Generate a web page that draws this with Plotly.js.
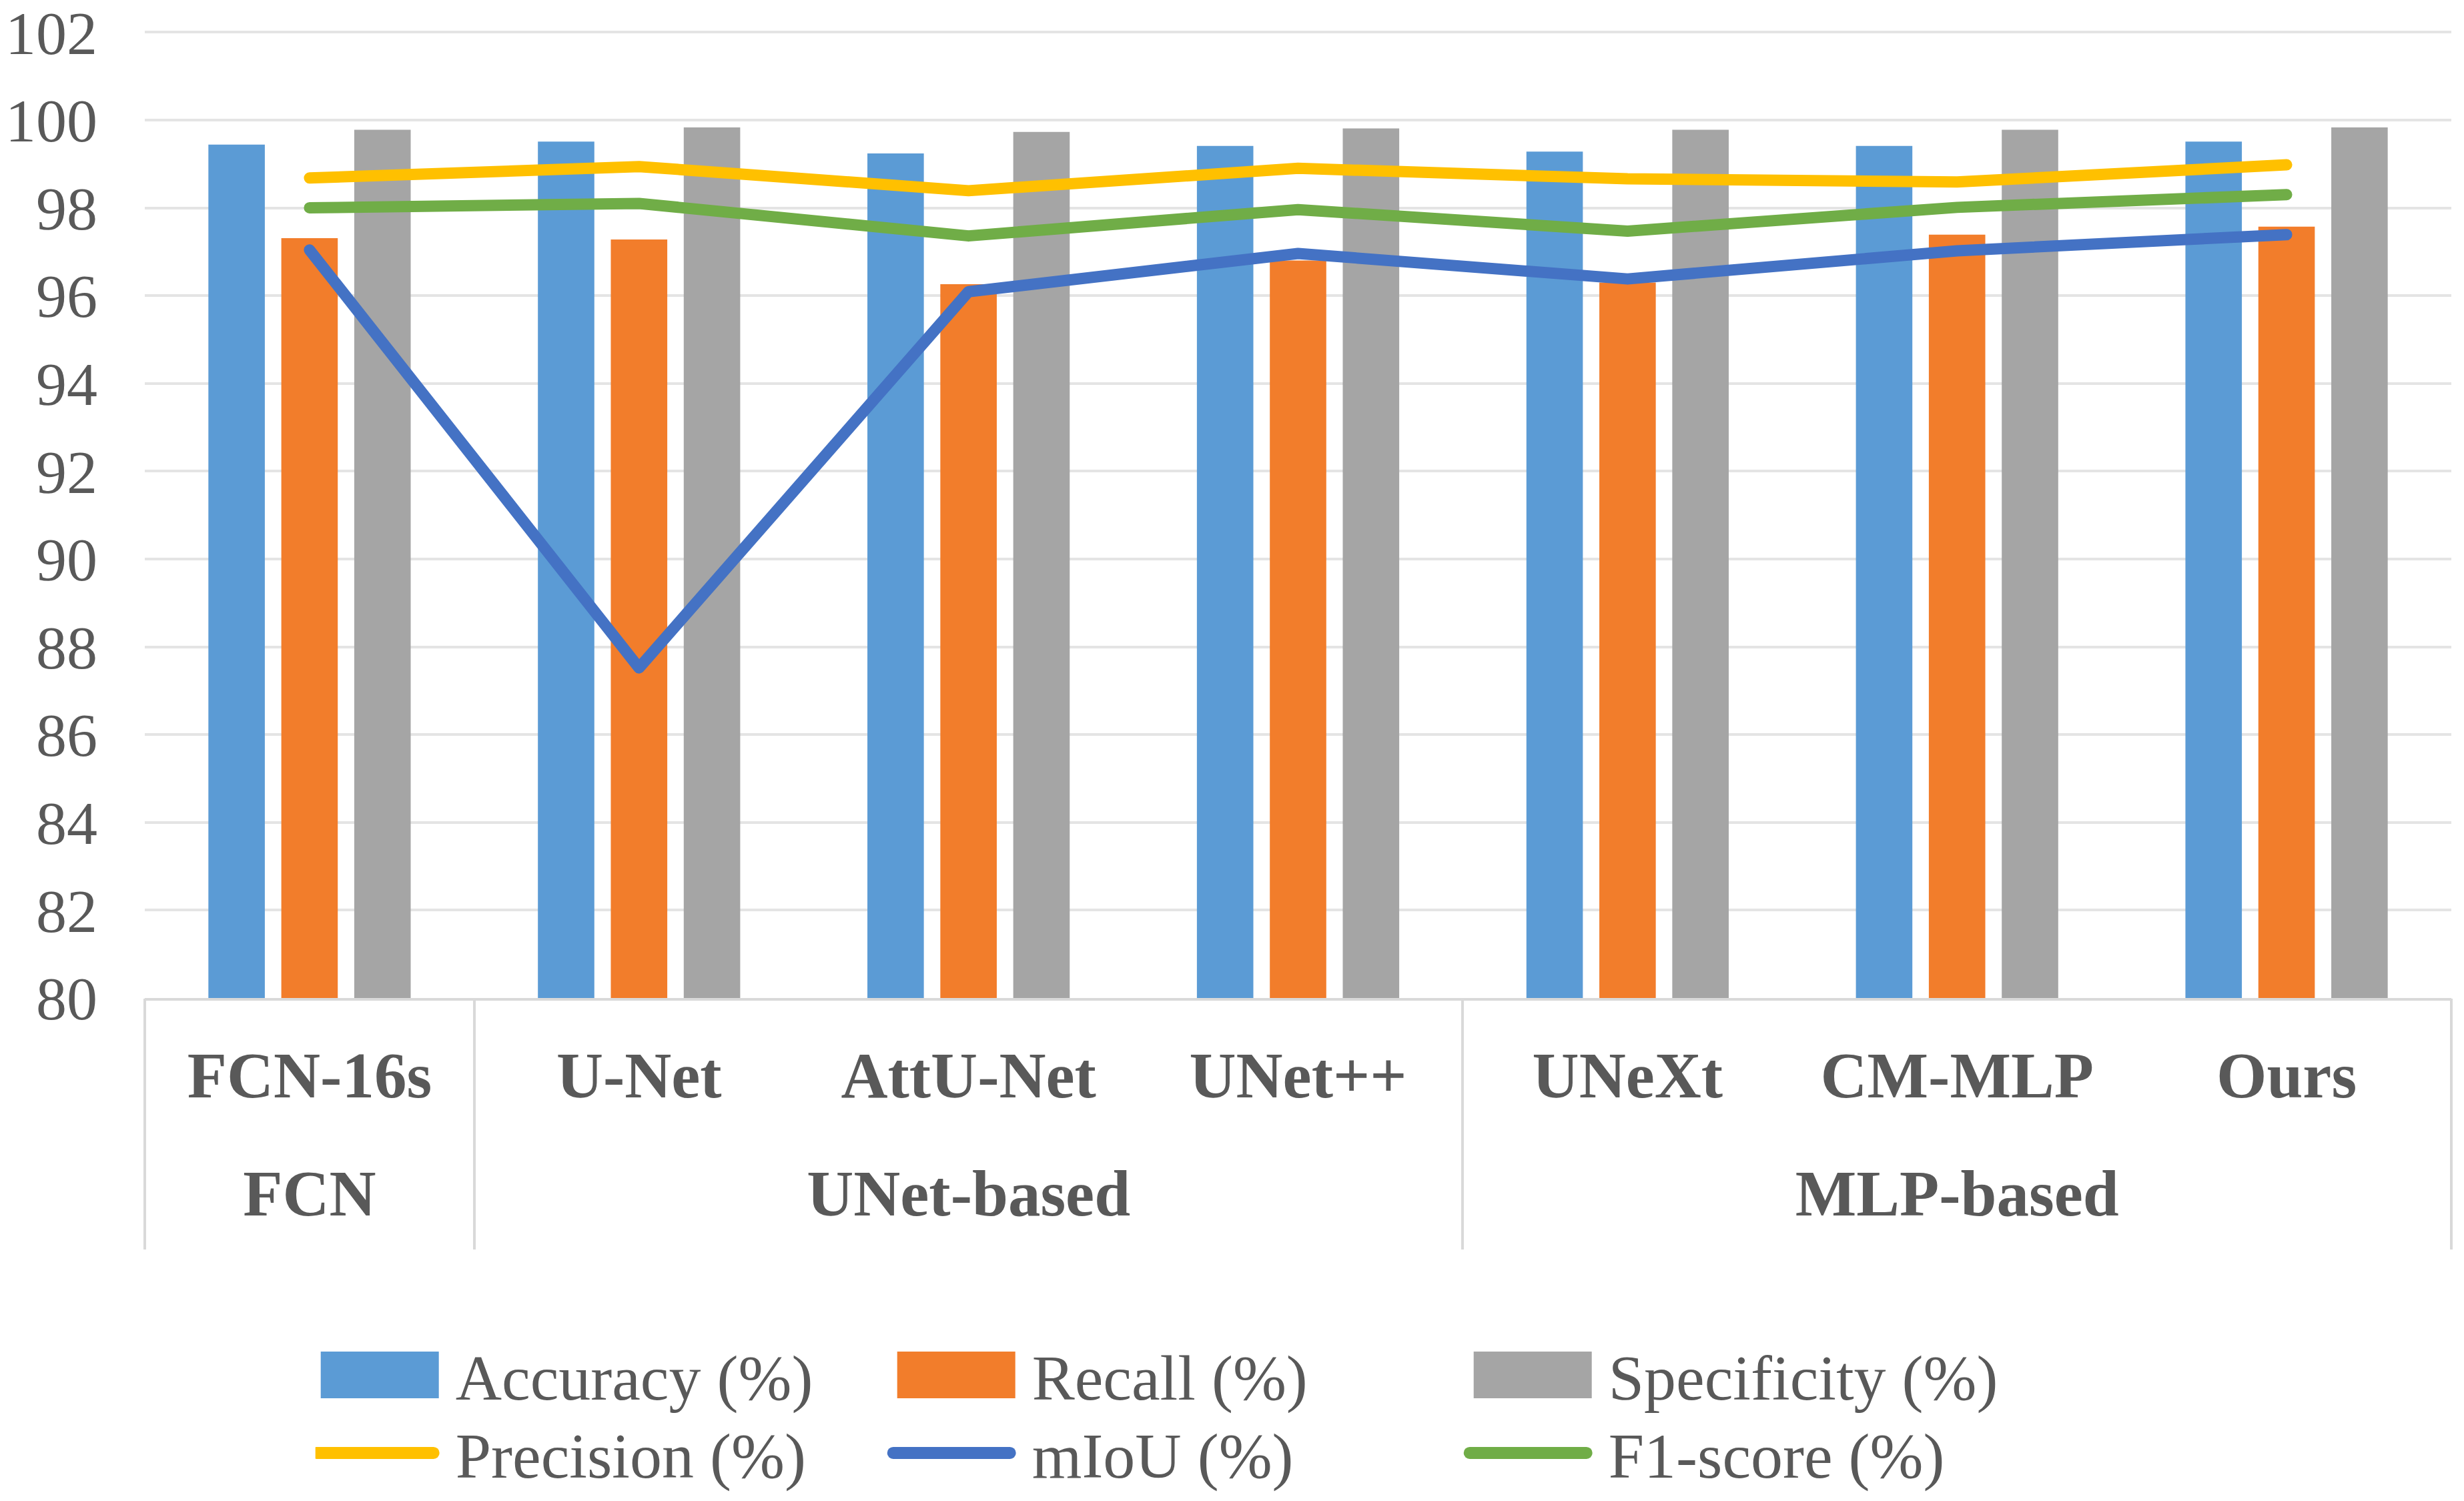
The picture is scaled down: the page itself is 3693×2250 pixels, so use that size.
<!DOCTYPE html>
<html>
<head>
<meta charset="utf-8">
<script src="https://cdn.plot.ly/plotly-3.0.1.min.js"></script>
<style>
html,body{margin:0;padding:0;background:#fff;}
#chart{width:3693px;height:2250px;}
</style>
</head>
<body>
<div id="chart"></div>
<script>
const groups = ['FCN', 'UNet-based', 'UNet-based', 'UNet-based', 'MLP-based', 'MLP-based', 'MLP-based'];
const models = ['FCN-16s', 'U-Net', 'AttU-Net', 'UNet++', 'UNeXt', 'CM-MLP', 'Ours'];

const accuracy    = [99.44, 99.51, 99.24, 99.41, 99.28, 99.41, 99.51];
const recall      = [97.31, 97.28, 96.26, 96.80, 96.30, 97.39, 97.57];
const specificity = [99.78, 99.83, 99.73, 99.81, 99.78, 99.78, 99.83];
const precision   = [98.68, 98.94, 98.39, 98.90, 98.66, 98.59, 98.98];
const miou        = [97.04, 87.52, 96.09, 96.96, 96.38, 97.02, 97.39];
const f1score     = [98.00, 98.10, 97.36, 97.96, 97.47, 98.01, 98.30];

const yTicks = [80, 82, 84, 86, 88, 90, 92, 94, 96, 98, 100, 102];

// group label positions and divider positions derived from the groups array
const groupNames = [];
const groupMembers = [];
const dividers = [-0.5];
groups.forEach(function (g, i) {
  if (i === 0 || groups[i - 1] !== g) {
    if (i > 0) dividers.push(i - 0.5);
    groupNames.push(g);
    groupMembers.push([i]);
  } else {
    groupMembers[groupMembers.length - 1].push(i);
  }
});
dividers.push(groups.length - 0.5);
const groupMid = groupMembers.map(function (a) { return (a[0] + a[a.length - 1]) / 2; });

const textColor = '#595959';
const serif = '"Liberation Serif", "Times New Roman", serif';
const xRange = [-0.5, models.length - 0.5];

const traces = [
  {type: 'bar', name: 'Accuracy (%)', x: models, y: accuracy, marker: {color: '#5B9BD5'}, legend: 'legend'},
  {type: 'bar', name: 'Recall (%)', x: models, y: recall, marker: {color: '#F27D2B'}, legend: 'legend'},
  {type: 'bar', name: 'Specificity (%)', x: models, y: specificity, marker: {color: '#A5A5A5'}, legend: 'legend'},
  {type: 'scatter', mode: 'lines', name: 'Precision (%)', x: models, y: precision, line: {color: '#FFC000', width: 17}, legend: 'legend2'},
  {type: 'scatter', mode: 'lines', name: 'mIoU (%)', x: models, y: miou, line: {color: '#4472C4', width: 17}, legend: 'legend2'},
  {type: 'scatter', mode: 'lines', name: 'F1-score (%)', x: models, y: f1score, line: {color: '#70AD47', width: 17}, legend: 'legend2'},
  // empty helper traces so the group-label axis and divider axis get drawn
  {type: 'scatter', mode: 'markers', x: groupMid, y: groupMid.map(function () { return null; }),
   xaxis: 'x2', yaxis: 'y', showlegend: false, hoverinfo: 'skip'},
  {type: 'scatter', mode: 'markers', x: dividers, y: dividers.map(function () { return null; }),
   xaxis: 'x3', yaxis: 'y', showlegend: false, hoverinfo: 'skip'}
];

const legendCommon = {
  orientation: 'h',
  xref: 'container', yref: 'container',
  x: 0.128, xanchor: 'left',
  yanchor: 'middle',
  entrywidth: 649, entrywidthmode: 'pixels',
  itemwidth: 200,
  font: {family: serif, size: 96, color: textColor},
  bgcolor: 'rgba(0,0,0,0)',
  traceorder: 'normal'
};

const labelFont = {family: serif, size: 97, color: textColor, weight: 'bold'};

const layout = {
  width: 3693, height: 2250,
  paper_bgcolor: '#ffffff', plot_bgcolor: '#ffffff',
  margin: {l: 217, r: 19, t: 47, b: 754},
  barmode: 'group',
  bargap: 0.336,
  bargroupgap: 0.226,
  showlegend: true,
  legend: Object.assign({}, legendCommon, {y: 0.084}),
  legend2: Object.assign({}, legendCommon, {y: 0.032}),
  xaxis: {
    type: 'category',
    range: xRange,
    tickfont: labelFont,
    showline: true, linecolor: '#D9D9D9', linewidth: 4,
    ticks: '', showgrid: false, zeroline: false,
    ticklabelstandoff: 29
  },
  xaxis2: {
    overlaying: 'x', anchor: 'y', side: 'bottom',
    type: 'linear', range: xRange,
    tickmode: 'array', tickvals: groupMid, ticktext: groupNames,
    tickfont: labelFont, ticklabeloverflow: 'allow',
    ticks: '', showgrid: false, zeroline: false, showline: false,
    ticklabelstandoff: 228
  },
  xaxis3: {
    overlaying: 'x', anchor: 'y', side: 'bottom',
    type: 'linear', range: xRange,
    tickmode: 'array', tickvals: dividers,
    showticklabels: false,
    ticks: 'outside', ticklen: 376, tickwidth: 4, tickcolor: '#D9D9D9',
    showgrid: false, zeroline: false, showline: false
  },
  yaxis: {
    range: [80, 102.02],
    tickmode: 'array',
    tickvals: yTicks,
    ticktext: yTicks.map(String),
    tickfont: {family: serif, size: 92, color: textColor},
    ticklabeloverflow: 'allow',
    showgrid: true, gridcolor: '#E4E4E4', gridwidth: 4,
    zeroline: false, showline: false,
    ticks: '', ticklabelstandoff: 70
  }
};

function restyleLegendAndLines(gd) {
  // wide rectangular bar swatches like the original legend
  gd.querySelectorAll('g.legendpoints path').forEach(function (p) {
    const d = (p.getAttribute('d') || '').replace(/\s/g, '');
    if (d.indexOf('M6,6H-6V-6H6Z') === 0 || p.classList.contains('legendbar')) {
      p.setAttribute('d', 'M-97,-35H80V35H-97Z');
    }
  });
  // thick, round-capped legend line swatches
  gd.querySelectorAll('g.legendlines path').forEach(function (p) {
    const d = (p.getAttribute('d') || '').replace(/\s/g, '');
    const m = d.match(/^M(-?[\d.]+),0h(-?[\d.]+)/);
    if (m && !p.dataset.done) {
      p.setAttribute('d', 'M' + (parseFloat(m[1]) - 3) + ',0h175');
      p.dataset.done = '1';
    }
    p.style.strokeWidth = '18px';
    p.style.strokeLinecap = 'round';
  });
  // round caps / joins on the plotted lines
  gd.querySelectorAll('.scatterlayer path.js-line').forEach(function (p) {
    p.style.strokeLinecap = 'round';
    p.style.strokeLinejoin = 'round';
  });
}

Plotly.newPlot('chart', traces, layout, {displayModeBar: false, staticPlot: true}).then(function (gd) {
  restyleLegendAndLines(gd);
  setTimeout(function () { restyleLegendAndLines(gd); }, 50);
});
</script>
</body>
</html>
